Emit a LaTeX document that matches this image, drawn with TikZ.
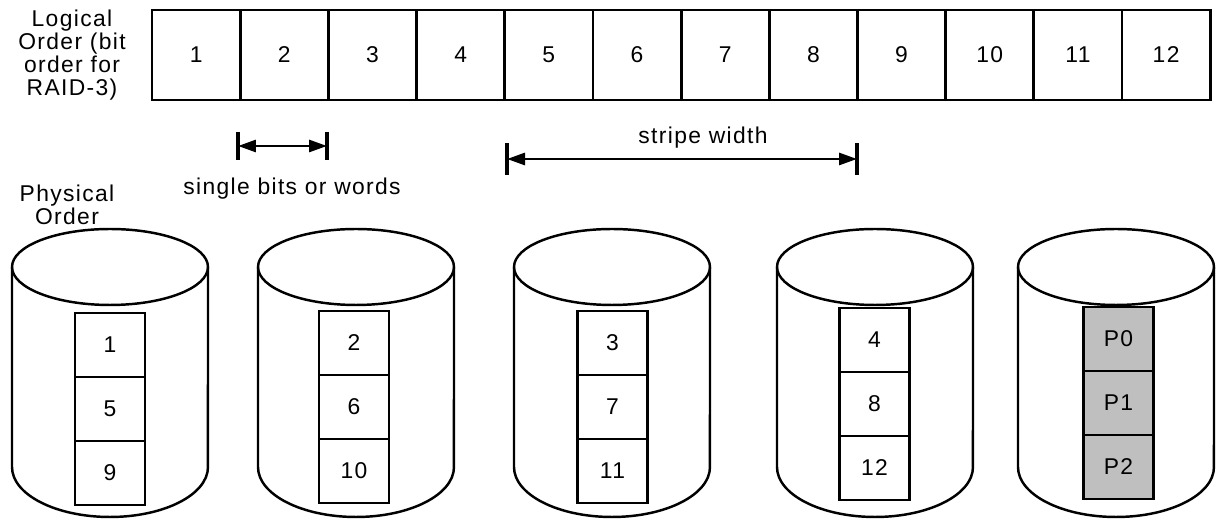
\documentclass[tikz,border=0pt]{standalone}
\usepackage{fontspec}
\setmainfont{Liberation Sans}[LetterSpace=6]
\usepackage{tikz}
\usetikzlibrary{positioning,arrows.meta}

\begin{document}
\begin{tikzpicture}[x=0.02cm,y=-0.02cm]
\tikzstyle{every node}=[font=\fontsize{13}{13.1}\selectfont];
\tikzstyle{slot}=[draw,line width=1.6pt,outer sep=0pt,minimum width=1.764cm,minimum height=1.8cm,inner sep=0pt];
\tikzstyle{cell}=[draw,line width=1.6pt,outer sep=0pt,minimum width=1.4cm,minimum height=1.28cm,inner sep=0pt];
\tikzstyle{parity}=[cell,fill=gray!50];
\tikzstyle{disk}=[line width=1.4pt];
\tikzstyle{span}=[line width=1.6pt,{Triangle[length=3.6mm,width=2.4mm]}-{Triangle[length=3.6mm,width=2.4mm]}];
\tikzstyle{bar}=[line width=2pt];
\useasboundingbox (0,0) rectangle (1224,519);

% logical order
\node[align=center] (logical) at (72,55) {Logical\\Order (bit\\order for\\RAID-3)};
\node[slot] (l1) at (196.1,55) {1};
\node[slot,right=0pt of l1] (l2) {2};
\node[slot,right=0pt of l2] (l3) {3};
\node[slot,right=0pt of l3] (l4) {4};
\node[slot,right=0pt of l4] (l5) {5};
\node[slot,right=0pt of l5] (l6) {6};
\node[slot,right=0pt of l6] (l7) {7};
\node[slot,right=0pt of l7] (l8) {8};
\node[slot,right=0pt of l8] (l9) {9};
\node[slot,right=0pt of l9] (l10) {10};
\node[slot,right=0pt of l10] (l11) {11};
\node[slot,right=0pt of l11] (l12) {12};

% widths
\coordinate (u1) at (238,146);
\coordinate (u2) at (327,146);
\draw[bar] (238,132) -- (238,160);
\draw[bar] (327,132) -- (327,160);
\draw[span] (u1) -- (u2);
\node (unit) at (292,189) {single bits or words};

\coordinate (s1) at (507,159);
\coordinate (s2) at (857,159);
\draw[bar] (507,143) -- (507,175);
\draw[bar] (857,143) -- (857,175);
\draw[span] (s1) -- (s2);
\node (stripe) at (703,138) {stripe width};

% physical order
\node[align=center] (physical) at (67,205) {Physical\\Order};

% disks
\foreach \cx in {110,356,612,875,1116} {
  \draw[disk] (\cx,267) ellipse [x radius=1.96cm, y radius=0.76cm];
  \draw[disk] (\cx-98,267) -- (\cx-98,467)
    arc [start angle=180, end angle=360, x radius=1.96cm, y radius=1cm]
    -- (\cx+98,267);
}

\node[cell] (d1a) at (110,345) {1};
\node[cell,below=0pt of d1a] (d1b) {5};
\node[cell,below=0pt of d1b] (d1c) {9};

\node[cell] (d2a) at (354,343) {2};
\node[cell,below=0pt of d2a] (d2b) {6};
\node[cell,below=0pt of d2b] (d2c) {10};

\node[cell] (d3a) at (612.5,343) {3};
\node[cell,below=0pt of d3a] (d3b) {7};
\node[cell,below=0pt of d3b] (d3c) {11};

\node[cell] (d4a) at (874.5,340) {4};
\node[cell,below=0pt of d4a] (d4b) {8};
\node[cell,below=0pt of d4b] (d4c) {12};

\node[parity] (d5a) at (1118.5,339) {P0};
\node[parity,below=0pt of d5a] (d5b) {P1};
\node[parity,below=0pt of d5b] (d5c) {P2};
\end{tikzpicture}
\end{document}
